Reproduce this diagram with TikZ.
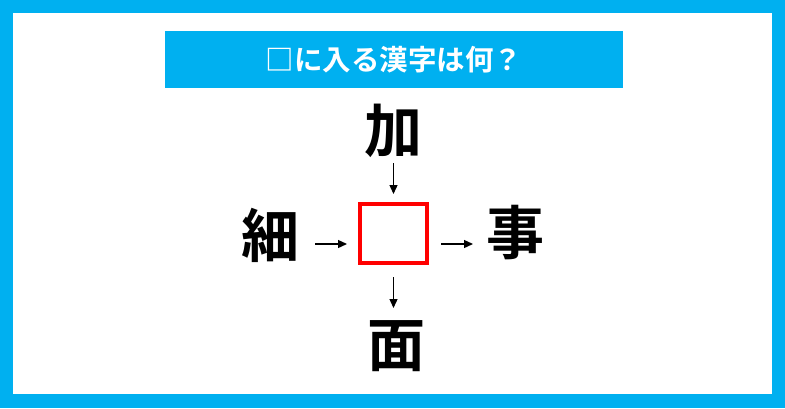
\documentclass[tikz,border=0pt]{standalone}
\usepackage{fontspec}
\newfontfamily\jpb{Noto Sans CJK JP Bold}
\usetikzlibrary{arrows.meta}
\definecolor{frameblue}{HTML}{00B0F0}
\definecolor{boxred}{HTML}{FF0000}
\tikzset{
  kanji/.style={font=\jpb\fontsize{58pt}{58pt}\selectfont, inner sep=0pt, text=black},
  arr/.style={line width=1.3pt, -{Triangle[length=9pt,width=8pt]}},
}
\begin{document}
\begin{tikzpicture}[x=1pt,y=-1pt]
\useasboundingbox (0,0) rectangle (785,408);
\fill[frameblue] (0,0) rectangle (785,408);
\fill[white] (13,13) rectangle (772,394);
\node[fill=frameblue, minimum width=458pt, minimum height=57pt, inner sep=0pt,
      text=white, font=\jpb\fontsize{28.5pt}{28.5pt}\selectfont] (title) at (394,59.5) {□に入る漢字は何？};
\node[draw=boxred, line width=4pt, minimum width=67pt, minimum height=59pt, inner sep=0pt] (box) at (393.5,233.5) {};
\node[kanji] (ka) at (393.5,131) {加};
\node[kanji] (sai) at (270,235) {細};
\node[kanji] (ji) at (515,232.5) {事};
\node[kanji] (men) at (396,346) {面};
\coordinate (kaA) at (393.5,163);
\coordinate (saiA) at (315,244);
\coordinate (jiA) at (473,244);
\coordinate (menA) at (393.5,308);
\draw[arr, shorten >=8pt] (kaA) -- (box.north);
\draw[arr, shorten >=11pt] (saiA) -- (box.west |- saiA);
\draw[arr, shorten <=12pt] (box.east |- jiA) -- (jiA);
\draw[arr, shorten <=12pt] (box.south) -- (menA);
\end{tikzpicture}
\end{document}
